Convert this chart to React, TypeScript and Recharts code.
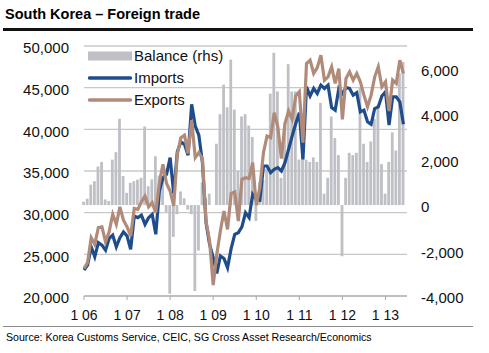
import { Bar, CartesianGrid, ComposedChart, Legend, Line, XAxis, YAxis } from "recharts"

const FONT = "'Liberation Sans', Arial, Helvetica, sans-serif"

// monthly, Jan 2006 .. Jun 2013 (USD mn)
const yearTicks = [0, 12, 24, 36, 48, 60, 72, 84]
const yearLabels = ["1 06", "1 07", "1 08", "1 09", "1 10", "1 11", "1 12", "1 13"]

const leftTicks = [20000, 25000, 30000, 35000, 40000, 45000, 50000]
const rightTicks = [-4000, -2000, 0, 2000, 4000, 6000]

const exportsUsd = [
    23300, 24000, 27000, 26200, 28200, 28300, 26500, 27700, 29800, 28600, 30700, 29100,
    28300, 27200, 30500, 30400, 31300, 32000, 30700, 31200, 30000, 33600, 35800, 33500,
    32600, 30800, 37000, 39000, 39300, 37100, 41100, 36600, 37200, 36500, 29000, 26600,
    21300, 25000, 27800, 30200, 28000, 32300, 32500, 29000, 34000, 34200, 34100, 36000,
    30900, 33000, 37200, 39200, 39000, 42000, 40300, 36500, 40700, 42200, 41200, 44000,
    44500, 38400, 47900, 48300, 46700, 47400, 48900, 45900, 46300, 47500, 45500, 47300,
    41200, 46100, 46900, 45900, 46700, 45700, 44100, 42700, 44100, 46300, 47500, 45100,
    45700, 42200, 45900, 45500, 48300, 46700,
]

const importsUsd = [
    23100, 23700, 25900, 24700, 26400, 26100, 25500, 26900, 27300, 25900, 27000, 27700,
    27200, 25600, 29600, 29400, 29700, 28600, 29400, 29800, 27400, 32600, 34200, 34600,
    36600, 32300, 37300, 38500, 38200, 36900, 43000, 40400, 39300, 36000, 28800, 26200,
    24600, 22700, 24800, 24500, 23400, 25700, 27400, 27600, 28300, 30000, 29400, 32200,
    31600, 31500, 35600, 35600, 34800, 35200, 35400, 35000, 36000, 37600, 39200, 40700,
    42000, 36400, 45100, 44000, 44900, 44300, 45300, 44900, 45300, 42600, 42300, 44900,
    44300, 45000, 44900, 44100, 44400, 42100, 42300, 40900, 40600, 42500, 42700, 44000,
    44500, 40500, 43900, 43900, 43300, 40600,
]

const balanceUsd = [
    150, 280, 900, 1050, 1700, 1900, 250, 180, 2000, 2330, 3800, 1280,
    540, 980, 1050, 1120, 1200, 3460, 830, 1130, 2150, 1300, 1100, -300,
    -3900, -1400, -400, 600, 300, -200, -400, -3780, -2000, 1000, 300, 500,
    0, 2700, 4000, 5300, 4300, 6400, 4200, 1500, 3900, 4000, 3500, 3000,
    -700, 1000, 1100, 1600, 4900, 6700, 5000, 1200, 3600, 6200, 5000, 5000,
    2000, 2200, 2000, 1900, 2100, 1900, 4500, 500, 1200, 3900, 2950, 2200,
    -2250, 1200, 2300, 2200, 2300, 5200, 2700, 1900, 2800, 3800, 4400, 1800,
    500, 1900, 3200, 2400, 5800, 6300,
]

const data = exportsUsd.map((v, i) => ({
    i,
    exports: v,
    imports: importsUsd[i],
    balance: balanceUsd[i],
}))

const BAR = "#bfc0c5"
const IMP = "#1f4d8c"
const EXP = "#b08b7a"

const fmt = (v: number) => v.toLocaleString("en-US")

const LeftTick = ({ x, y, payload }: any) => (
    <text x={x} y={y + 2} dy="0.35em" textAnchor="end" fontSize={15} fill="#111" fontFamily={FONT}>
        {fmt(payload.value)}
    </text>
)

const RightTick = ({ x, y, payload }: any) => (
    <text x={x} y={y + 2} dy="0.35em" textAnchor="start" fontSize={15} fill="#111" fontFamily={FONT}>
        {fmt(payload.value)}
    </text>
)

const BottomTick = ({ x, y, payload }: any) => (
    <text x={x} y={y} dy="0.71em" textAnchor="middle" fontSize={14} fill="#111" fontFamily={FONT}>
        {yearLabels[yearTicks.indexOf(payload.value)]}
    </text>
)

const legendRows = [
    { label: "Balance (rhs)", kind: "bar", color: BAR },
    { label: "Imports", kind: "line", color: IMP },
    { label: "Exports", kind: "line", color: EXP },
]

const LegendBox = () => (
    <div style={{ fontFamily: FONT, fontSize: 15, color: "#111" }}>
        {legendRows.map((r) => (
            <div key={r.label} style={{ display: "flex", alignItems: "center", height: 22 }}>
                <svg width={46} height={12} style={{ display: "block" }}>
                    {r.kind === "bar" ? (
                        <rect x={0} y={1.5} width={44} height={9} fill={r.color} />
                    ) : (
                        <line x1={1.5} x2={42.5} y1={6} y2={6} stroke={r.color} strokeWidth={3.5} strokeLinecap="round" />
                    )}
                </svg>
                <span style={{ lineHeight: "22px" }}>{r.label}</span>
            </div>
        ))}
    </div>
)

export default function App() {
    return (
        <div style={{ position: "absolute", left: 0, top: 0, width: 489, height: 353, background: "#fff", fontFamily: FONT }}>
            <div style={{ position: "absolute", left: 5, top: 6, fontSize: 14.5, fontWeight: 700, color: "#000", whiteSpace: "nowrap" }}>
                South Korea – Foreign trade
            </div>
            <div style={{ position: "absolute", left: 3, top: 28, width: 470, height: 2.5, background: "#111" }} />

            <ComposedChart
                width={489}
                height={353}
                data={data}
                margin={{ top: 46, right: 0, bottom: 27, left: 0 }}
            >
                <CartesianGrid yAxisId="left" vertical={false} stroke="#c8c8c8" strokeWidth={1.3} />
                <XAxis
                    dataKey="i"
                    type="number"
                    domain={[0, 90]}
                    ticks={yearTicks}
                    height={30}
                    tickSize={4}
                    tickMargin={10}
                    stroke="#a8a8a8"
                    tick={<BottomTick />}
                    interval={0}
                />
                <YAxis
                    yAxisId="left"
                    domain={[20000, 50000]}
                    ticks={leftTicks}
                    width={84}
                    axisLine={false}
                    tickLine={false}
                    tickSize={0}
                    tickMargin={15}
                    tick={<LeftTick />}
                    interval={0}
                />
                <YAxis
                    yAxisId="right"
                    orientation="right"
                    domain={[-4000, 7000]}
                    ticks={rightTicks}
                    width={82}
                    axisLine={false}
                    tickLine={false}
                    tickSize={0}
                    tickMargin={14}
                    tick={<RightTick />}
                    interval={0}
                />
                <Legend
                    layout="vertical"
                    align="center"
                    verticalAlign="middle"
                    wrapperStyle={{ top: 45, left: 88, width: 200 }}
                    content={<LegendBox />}
                />
                <Bar yAxisId="right" dataKey="balance" fill={BAR} barSize={2.8} isAnimationActive={false} />
                <Line yAxisId="left" dataKey="imports" type="linear" stroke={IMP} strokeWidth={3.2} dot={false} isAnimationActive={false} />
                <Line yAxisId="left" dataKey="exports" type="linear" stroke={EXP} strokeWidth={3.2} dot={false} isAnimationActive={false} />
            </ComposedChart>

            <div style={{ position: "absolute", left: 3, top: 326, width: 470, height: 1, background: "#8c8c8c" }} />
            <div style={{ position: "absolute", left: 6, top: 331, fontSize: 10.6, color: "#000", whiteSpace: "nowrap" }}>
                Source: Korea Customs Service, CEIC, SG Cross Asset Research/Economics
            </div>
        </div>
    )
}
